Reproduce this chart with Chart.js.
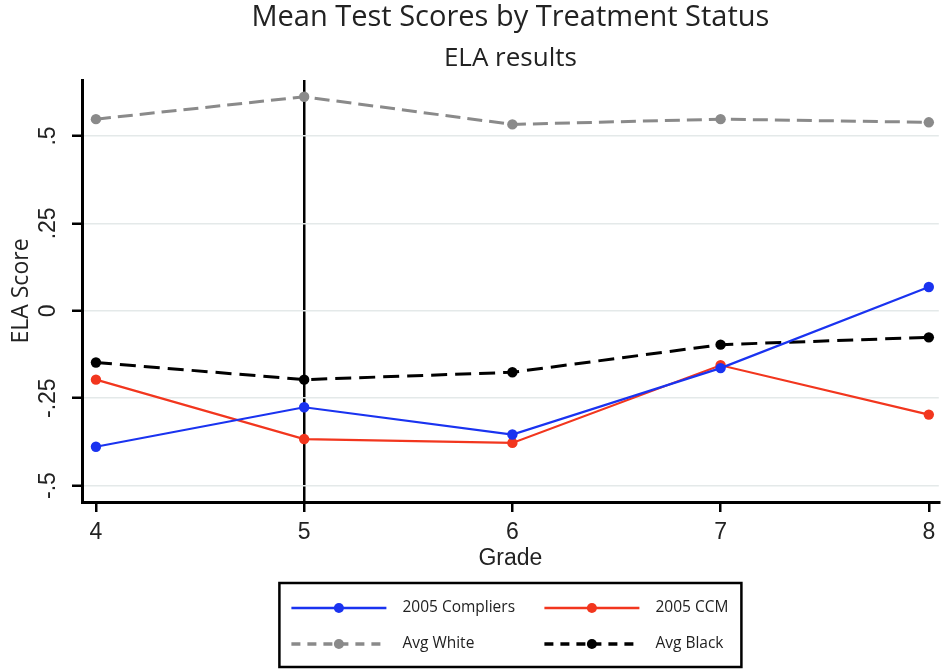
<!DOCTYPE html>
<html><head><meta charset="utf-8">
<script src="https://cdn.jsdelivr.net/npm/chart.js@4/dist/chart.umd.min.js"></script>
<style>html,body{margin:0;padding:0;background:#fff}#wrap{width:944px;height:669px;position:relative}</style>
</head><body><div id="wrap"><canvas id="c"></canvas></div>
<script>
const grades = [4, 5, 6, 7, 8];
const compliers2005 = [-0.389, -0.276, -0.354, -0.164, 0.068];
const ccm2005 = [-0.197, -0.367, -0.378, -0.156, -0.297];
const avgWhite = [0.548, 0.612, 0.533, 0.548, 0.539];
const avgBlack = [-0.148, -0.197, -0.176, -0.097, -0.076];
const seriesNames = ['2005 Compliers', '2005 CCM', 'Avg White', 'Avg Black'];
const yTickValues = [-0.5, -0.25, 0, 0.25, 0.5];
const yTickLabels = ['-.5', '-.25', '0', '.25', '.5'];
const xTickValues = [4, 5, 6, 7, 8];
const treatmentGrade = 5;

const pts = arr => grades.map((g, i) => ({x: g, y: arr[i]}));

const legendBox = {
  id: 'legendBox',
  afterDraw(chart) {
    const {ctx, chartArea} = chart;
    const cx = (chartArea.left + chartArea.right) / 2;
    const w = 462, h = 84;
    const left = cx - w / 2, top = chartArea.bottom + 81;
    ctx.save();
    ctx.lineWidth = 2.5; ctx.strokeStyle = '#000';
    ctx.strokeRect(left, top, w, h);
    const slots = [[0, 0], [1, 0], [0, 1], [1, 1]];
    chart.data.datasets.forEach((ds, i) => {
      const [col, row] = slots[i];
      const x0 = left + (col ? 265 : 12), x1 = x0 + 95, y = top + (row ? 61 : 25);
      ctx.beginPath();
      ctx.setLineDash(ds.borderDash && ds.borderDash.length ? [9, 7] : []);
      ctx.lineWidth = ds.borderWidth + 0.5; ctx.strokeStyle = ds.borderColor;
      ctx.moveTo(x0, y); ctx.lineTo(x1, y); ctx.stroke();
      ctx.setLineDash([]);
      ctx.beginPath(); ctx.fillStyle = ds.pointBackgroundColor;
      ctx.arc((x0 + x1) / 2, y, 5, 0, Math.PI * 2); ctx.fill();
      ctx.fillStyle = '#222'; ctx.font = '15.5px "Open Sans"'; ctx.textBaseline = 'middle'; ctx.textAlign = 'left';
      ctx.fillText(ds.label, x1 + 16, y);
    });
    ctx.restore();
  }
};

const mk = (label, data, color, dash, width) => ({
  label, data: pts(data), borderColor: color, backgroundColor: color,
  pointBackgroundColor: color, pointBorderColor: color, pointBorderWidth: 0,
  pointRadius: 5.2, borderWidth: width, borderDash: dash, tension: 0, fill: false
});

new Chart(document.getElementById('c'), {
  type: 'line',
  data: {
    datasets: [
      mk(seriesNames[0], compliers2005, '#1a33f0', [], 2.2),
      mk(seriesNames[1], ccm2005, '#f2361e', [], 2.2),
      mk(seriesNames[2], avgWhite, '#8a8a8a', [15, 7], 3),
      mk(seriesNames[3], avgBlack, '#000000', [16, 8], 3)
    ]
  },
  options: {
    responsive: true, maintainAspectRatio: false, animation: false,
    layout: {padding: {left: 0, right: 0, top: 0, bottom: 93}},
    plugins: {
      legend: {display: false}, tooltip: {enabled: false},
      title: {display: true, fullSize: false, text: 'Mean Test Scores by Treatment Status', color: '#222',
        font: {family: '"Open Sans"', size: 29, weight: 'normal'}, padding: {top: 0, bottom: 4}},
      subtitle: {display: true, fullSize: false, text: 'ELA results', color: '#222',
        font: {family: '"Open Sans"', size: 26, weight: 'normal'}, padding: {top: 4, bottom: 6}}
    },
    scales: {
      x: {
        type: 'linear', min: 3.933, max: 8.048,
        afterBuildTicks(s) { s.ticks = xTickValues.map(v => ({value: v})); },
        afterFit(s) { s.height = 74; },
        border: {display: true, color: '#000', width: 3},
        grid: {
          color: c => (c.tick && c.tick.value === treatmentGrade) ? '#000' : 'rgba(0,0,0,0)',
          lineWidth: 2.5, drawTicks: true, tickLength: 10, tickColor: '#000', tickWidth: 2.5
        },
        ticks: {color: '#222', font: {family: '"Liberation Sans"', size: 23}, padding: 7, maxRotation: 0, autoSkip: false},
        title: {display: true, text: 'Grade', color: '#222', font: {family: '"Liberation Sans"', size: 23}, padding: {top: 0, bottom: 4}}
      },
      y: {
        min: -0.547, max: 0.66,
        afterBuildTicks(s) { s.ticks = yTickValues.map(v => ({value: v})); },
        afterFit(s) { s.width = 82; },
        border: {display: true, color: '#000', width: 3},
        grid: {color: '#e4e9e9', lineWidth: 1.5, tickColor: '#000', tickLength: 10, tickWidth: 2.5},
        ticks: {
          callback: (v, i) => yTickLabels[i],
          minRotation: 90, maxRotation: 90, crossAlign: 'center', padding: 4, color: '#222',
          font: {family: '"Liberation Sans Narrow", "Liberation Sans"', size: 23}
        },
        title: {display: true, text: 'ELA Score', color: '#222', font: {family: '"Open Sans"', size: 23}, padding: {top: 8, bottom: 0}}
      }
    }
  },
  plugins: [legendBox]
});
</script>
</body></html>
